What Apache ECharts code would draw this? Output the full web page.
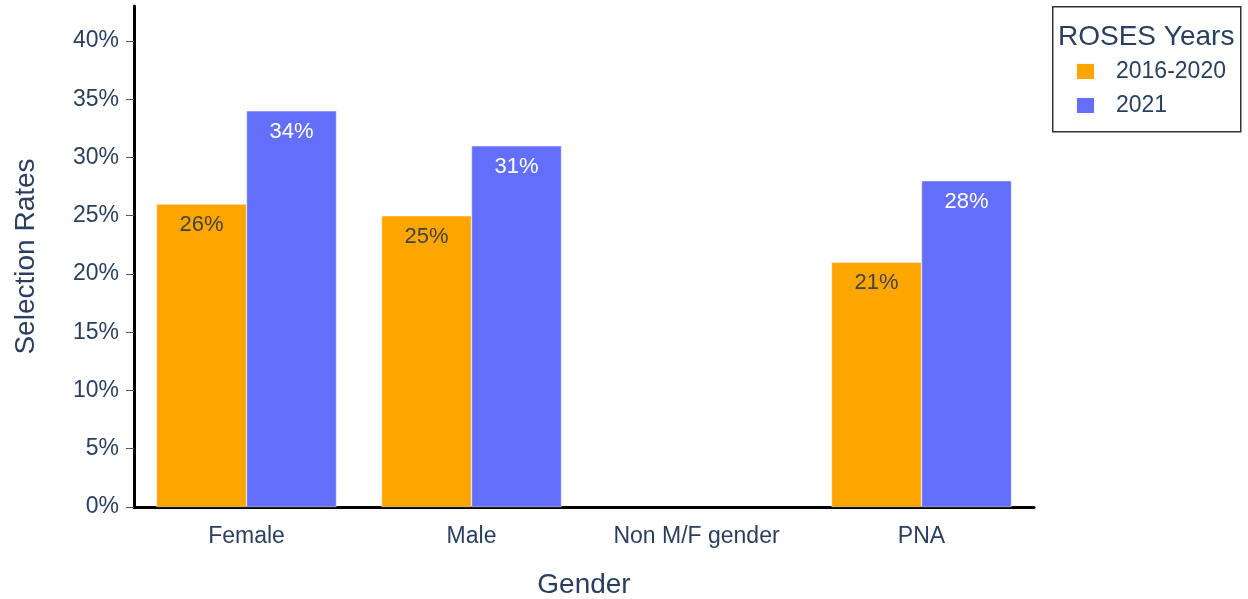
<!DOCTYPE html>
<html>
<head>
<meta charset="utf-8">
<script src="https://cdn.jsdelivr.net/npm/echarts@6/dist/echarts.min.js"></script>
<style>html,body{margin:0;padding:0;background:#fff}#c{width:1248px;height:599px}</style>
</head>
<body>
<div id="c"></div>
<script>
const categories = ["Female", "Male", "Non M/F gender", "PNA"];
const years2016_2020 = [26, 25, null, 21];
const years2021 = [34, 31, null, 28];
const yTicks = [0, 5, 10, 15, 20, 25, 30, 35, 40];
const seriesNames = ["2016-2020", "2021"];

const FONT = "Liberation Sans, Arial, sans-serif";
const TXT = "#2a3f5f";
const chart = echarts.init(document.getElementById('c'), null, {renderer: 'canvas'});
chart.setOption({
  animation: false,
  textStyle: {fontFamily: FONT},
  grid: {left: 134, right: 214, top: 6, bottom: 92, containLabel: false, outerBoundsMode: 'none'},
  graphic: [
    {type: 'rect', left: 1052, top: 6, shape: {width: 188, height: 125},
     style: {fill: '#fff', stroke: '#333', lineWidth: 1.5}},
    {type: 'text', left: 1058, top: 23, style: {text: 'ROSES Years', font: '28px ' + FONT, fill: TXT}}
  ],
  legend: {
    orient: 'vertical', left: 1070, top: 55, itemGap: 11,
    itemWidth: 19, itemHeight: 17, icon: 'rect',
    textStyle: {fontSize: 23, color: TXT, fontFamily: FONT, padding: [0, 0, 0, 16]},
    data: seriesNames
  },
  xAxis: {
    type: 'category', data: categories,
    name: 'Gender', nameLocation: 'middle', nameGap: 64,
    nameTextStyle: {fontSize: 28, color: TXT, fontFamily: FONT},
    axisLine: {lineStyle: {color: '#000', width: 3}},
    axisTick: {alignWithLabel: true, length: 7, lineStyle: {color: '#555'}},
    axisLabel: {fontSize: 23, color: TXT, margin: 18, fontFamily: FONT}
  },
  yAxis: {
    type: 'value', min: 0, max: 43,
    name: 'Selection Rates', nameLocation: 'middle', nameGap: 94,
    nameTextStyle: {fontSize: 28, color: TXT, fontFamily: FONT},
    axisLine: {show: true, lineStyle: {color: '#000', width: 3}},
    axisTick: {show: true, length: 8, lineStyle: {color: '#555'}, customValues: yTicks},
    splitLine: {show: false},
    axisLabel: {fontSize: 23, color: TXT, margin: 15, fontFamily: FONT,
      customValues: yTicks, formatter: v => v + '%'}
  },
  series: [
    {name: seriesNames[0], type: 'bar', data: years2016_2020, barGap: '0%', barCategoryGap: '20%',
     itemStyle: {color: '#FFA500', borderColor: '#fafafa', borderWidth: 0.5},
     label: {show: true, position: 'insideTop', distance: 10, fontSize: 22, color: '#444',
       fontFamily: FONT, formatter: p => p.value + '%'}},
    {name: seriesNames[1], type: 'bar', data: years2021,
     itemStyle: {color: '#636EFA', borderColor: '#fafafa', borderWidth: 0.5},
     label: {show: true, position: 'insideTop', distance: 10, fontSize: 22, color: '#fff',
       fontFamily: FONT, formatter: p => p.value + '%'}}
  ]
});
</script>
</body>
</html>
